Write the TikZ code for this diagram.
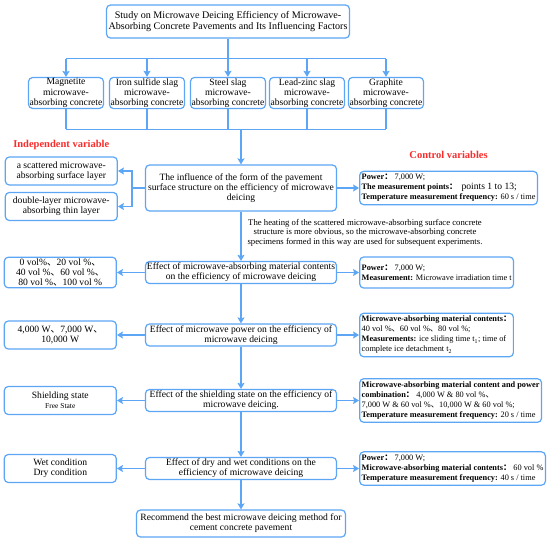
\documentclass[tikz,border=0pt]{standalone}
\usepackage{fontspec}
\setmainfont{Liberation Serif}
\newfontfamily\cjk{Noto Sans CJK SC}
\usetikzlibrary{calc}
\usetikzlibrary{positioning}
\usetikzlibrary{arrows.meta}
\definecolor{flow}{RGB}{92,166,245}
\definecolor{headred}{RGB}{250,45,45}
\newcommand{\dunhao}{{\cjk 、}}
\newcommand{\fcolon}{{\cjk ：}}

\begin{document}
\begin{tikzpicture}[x=1pt,y=1pt,->,>={Stealth[length=6pt,width=7pt,inset=1pt]},
	  flow line/.style={draw=flow,line width=1.2pt},
	  every edge/.style={flow line},
	  main node/.style={draw=flow,line width=1.2pt,rounded corners=4pt,align=center,
	    minimum width=191pt,inner sep=1.5pt,font=\fontsize{9.6}{10.2}\selectfont},
	  kind node/.style={main node,minimum width=75pt,minimum height=30pt,inner sep=1pt},
	  side node/.style={main node,minimum width=112pt,minimum height=28pt},
	  ctrl node/.style={main node,align=left,minimum width=0pt,inner xsep=2pt,inner ysep=3pt,
	    font=\fontsize{8.3}{10}\selectfont},
	  head label/.style={text=headred,font=\bfseries\fontsize{10.5}{12}\selectfont},
	  note text/.style={align=center,font=\fontsize{8.7}{9.5}\selectfont}]

	 \useasboundingbox (0,0) rectangle (550,-541);

	 % study and the five concretes
	 \node[main node, minimum width=243pt, minimum height=33pt, font=\fontsize{10.1}{11.7}\selectfont] (study) at (228,-21.5)
	   {Study on Microwave Deicing Efficiency of Microwave-\\Absorbing Concrete Pavements and Its Influencing Factors};
	 \node[kind node] (steel) at ($ (study) + (270:71.5) $) {Steel slag\\microwave-\\absorbing concrete};
	 \node[kind node] (iron) at ($ (steel) + (180:81) $) {Iron sulfide slag\\microwave-\\absorbing concrete};
	 \node[kind node] (magnetite) at ($ (iron) + (180:81) $) {Magnetite\\microwave-\\absorbing concrete};
	 \node[kind node] (leadzinc) at ($ (steel) + (0:79) $) {Lead-zinc slag\\microwave-\\absorbing concrete};
	 \node[kind node] (graphite) at ($ (leadzinc) + (0:79) $) {Graphite\\microwave-\\absorbing concrete};

	 % main column
	 \node[main node, minimum height=46pt] (form) at (241,-188)
	   {The influence of the form of the pavement\\surface structure on the efficiency of microwave\\deicing};
	 \node[main node] (content) at ($ (form) + (270:84.5) $)
	   {Effect of microwave-absorbing material contents\\on the efficiency of microwave deicing};
	 \node[main node] (power) at ($ (content) + (270:62.5) $)
	   {Effect of microwave power on the efficiency of\\microwave deicing};
	 \node[main node] (shield) at ($ (power) + (270:65.5) $)
	   {Effect of the shielding state on the efficiency of\\microwave deicing.};
	 \node[main node] (moisture) at ($ (shield) + (270:68) $)
	   {Effect of dry and wet conditions on the\\efficiency of microwave deicing};
	 \node[main node, minimum width=209pt, minimum height=27pt] (best) at ($ (moisture) + (270:55) $)
	   {Recommend the best microwave deicing method for\\cement concrete pavement};

	 % independent variables
	 \node[side node, anchor=east] (scatter) at ($ (form.west) + (-27,17) $) {a scattered microwave-\\absorbing surface layer};
	 \node[side node, anchor=east] (double) at ($ (form.west) + (-27,-18.5) $) {double-layer microwave-\\absorbing thin layer};
	 \node[side node, left=28pt of content] (volume)
	   {0 vol\%\dunhao 20 vol \%\dunhao\\40 vol \%\dunhao 60 vol \%\dunhao\\80 vol \%\dunhao 100 vol \%};
	 \node[side node, left=28pt of power] (watt) {4,000 W\dunhao 7,000 W\dunhao\\10,000 W};
	 \node[side node, left=28pt of shield] (cover) {Shielding state\\{\fontsize{7.5}{9}\selectfont Free State}};
	 \node[side node, left=28pt of moisture] (wetdry) {Wet condition\\Dry condition};
	 \node[head label] (indep) at ($ (scatter.north) + (0,11) $) {Independent variable};

	 % control variables
	 \node[ctrl node, right=22pt of form] (ctrlform)
	   {\textbf{Power\fcolon} 7,000 W;\\\textbf{The measurement points\fcolon}\ \ {\fontsize{9.6}{10}\selectfont points 1 to 13;}\\\textbf{Temperature measurement frequency:} 60 s / time};
	 \node[ctrl node, right=22pt of content, minimum height=31pt] (ctrlcontent)
	   {\textbf{Power\fcolon} 7,000 W;\\\textbf{Measurement:} Microwave irradiation time t};
	 \node[ctrl node, right=22pt of power] (ctrlpower)
	   {\textbf{Microwave-absorbing material contents\fcolon}\\40 vol \%\dunhao 60 vol \%\dunhao 80 vol \%;\\\textbf{Measurements:} ice sliding time t\textsubscript{1}; time of\\complete ice detachment t\textsubscript{2}};
	 \node[ctrl node, right=22pt of shield] (ctrlshield)
	   {\textbf{Microwave-absorbing material content and power}\\\textbf{combination\fcolon} 4,000 W \& 80 vol \%\dunhao\\7,000 W \& 60 vol \%\dunhao 10,000 W \& 60 vol \%;\\\textbf{Temperature measurement frequency:} 20 s / time};
	 \node[ctrl node, right=22pt of moisture] (ctrlmoisture)
	   {\textbf{Power\fcolon} 7,000 W;\\\textbf{Microwave-absorbing material contents\fcolon} 60 vol \%\\\textbf{Temperature measurement frequency:} 40 s / time};
	 \node[head label] (ctrlhead) at ($ (ctrlform.north) + (0,16) $) {Control variables};

	 \node[note text] (hint) at ($ (form.south) + (124,-21) $)
	   {The heating of the scattered microwave-absorbing surface concrete\\structure is more obvious, so the microwave-absorbing concrete\\specimens formed in this way are used for subsequent experiments.};

	 % connectors
	 \draw[flow line,-] (study.south) -- ++(0,-20) coordinate (split);
	 \draw[flow line,-] (split -| magnetite.north) -- (split -| graphite.north);
	 \coordinate (merge) at ($ (steel.south) + (0,-20) $);
	 \draw[flow line,-] (magnetite.south |- merge) -- (graphite.south |- merge);
	 \foreach \k in {magnetite,iron,steel,leadzinc,graphite} {
	   \draw[flow line] (split -| \k.north) -- (\k.north);
	   \draw[flow line,-] (\k.south) -- (\k.south |- merge);
	 }
	 \draw[flow line] (form.north |- merge) -- (form.north);

	 \draw[flow line,-] (form.west) -- ++(-13,0) coordinate (fork);
	 \draw[flow line] (fork) |- (scatter.east);
	 \draw[flow line] (fork) |- (double.east);

	 \path (form) edge (content)
	    (content) edge (power)
	    (power) edge (shield)
	    (shield) edge (moisture)
	    (moisture) edge (best)
	    (content) edge (volume)
	    (power) edge (watt)
	    (shield) edge (cover)
	    (moisture) edge (wetdry)
	    (form) edge (ctrlform)
	    (content) edge (ctrlcontent)
	    (power) edge (ctrlpower)
	    (shield) edge (ctrlshield)
	    (moisture) edge (ctrlmoisture)
;
	\end{tikzpicture}
\end{document}
